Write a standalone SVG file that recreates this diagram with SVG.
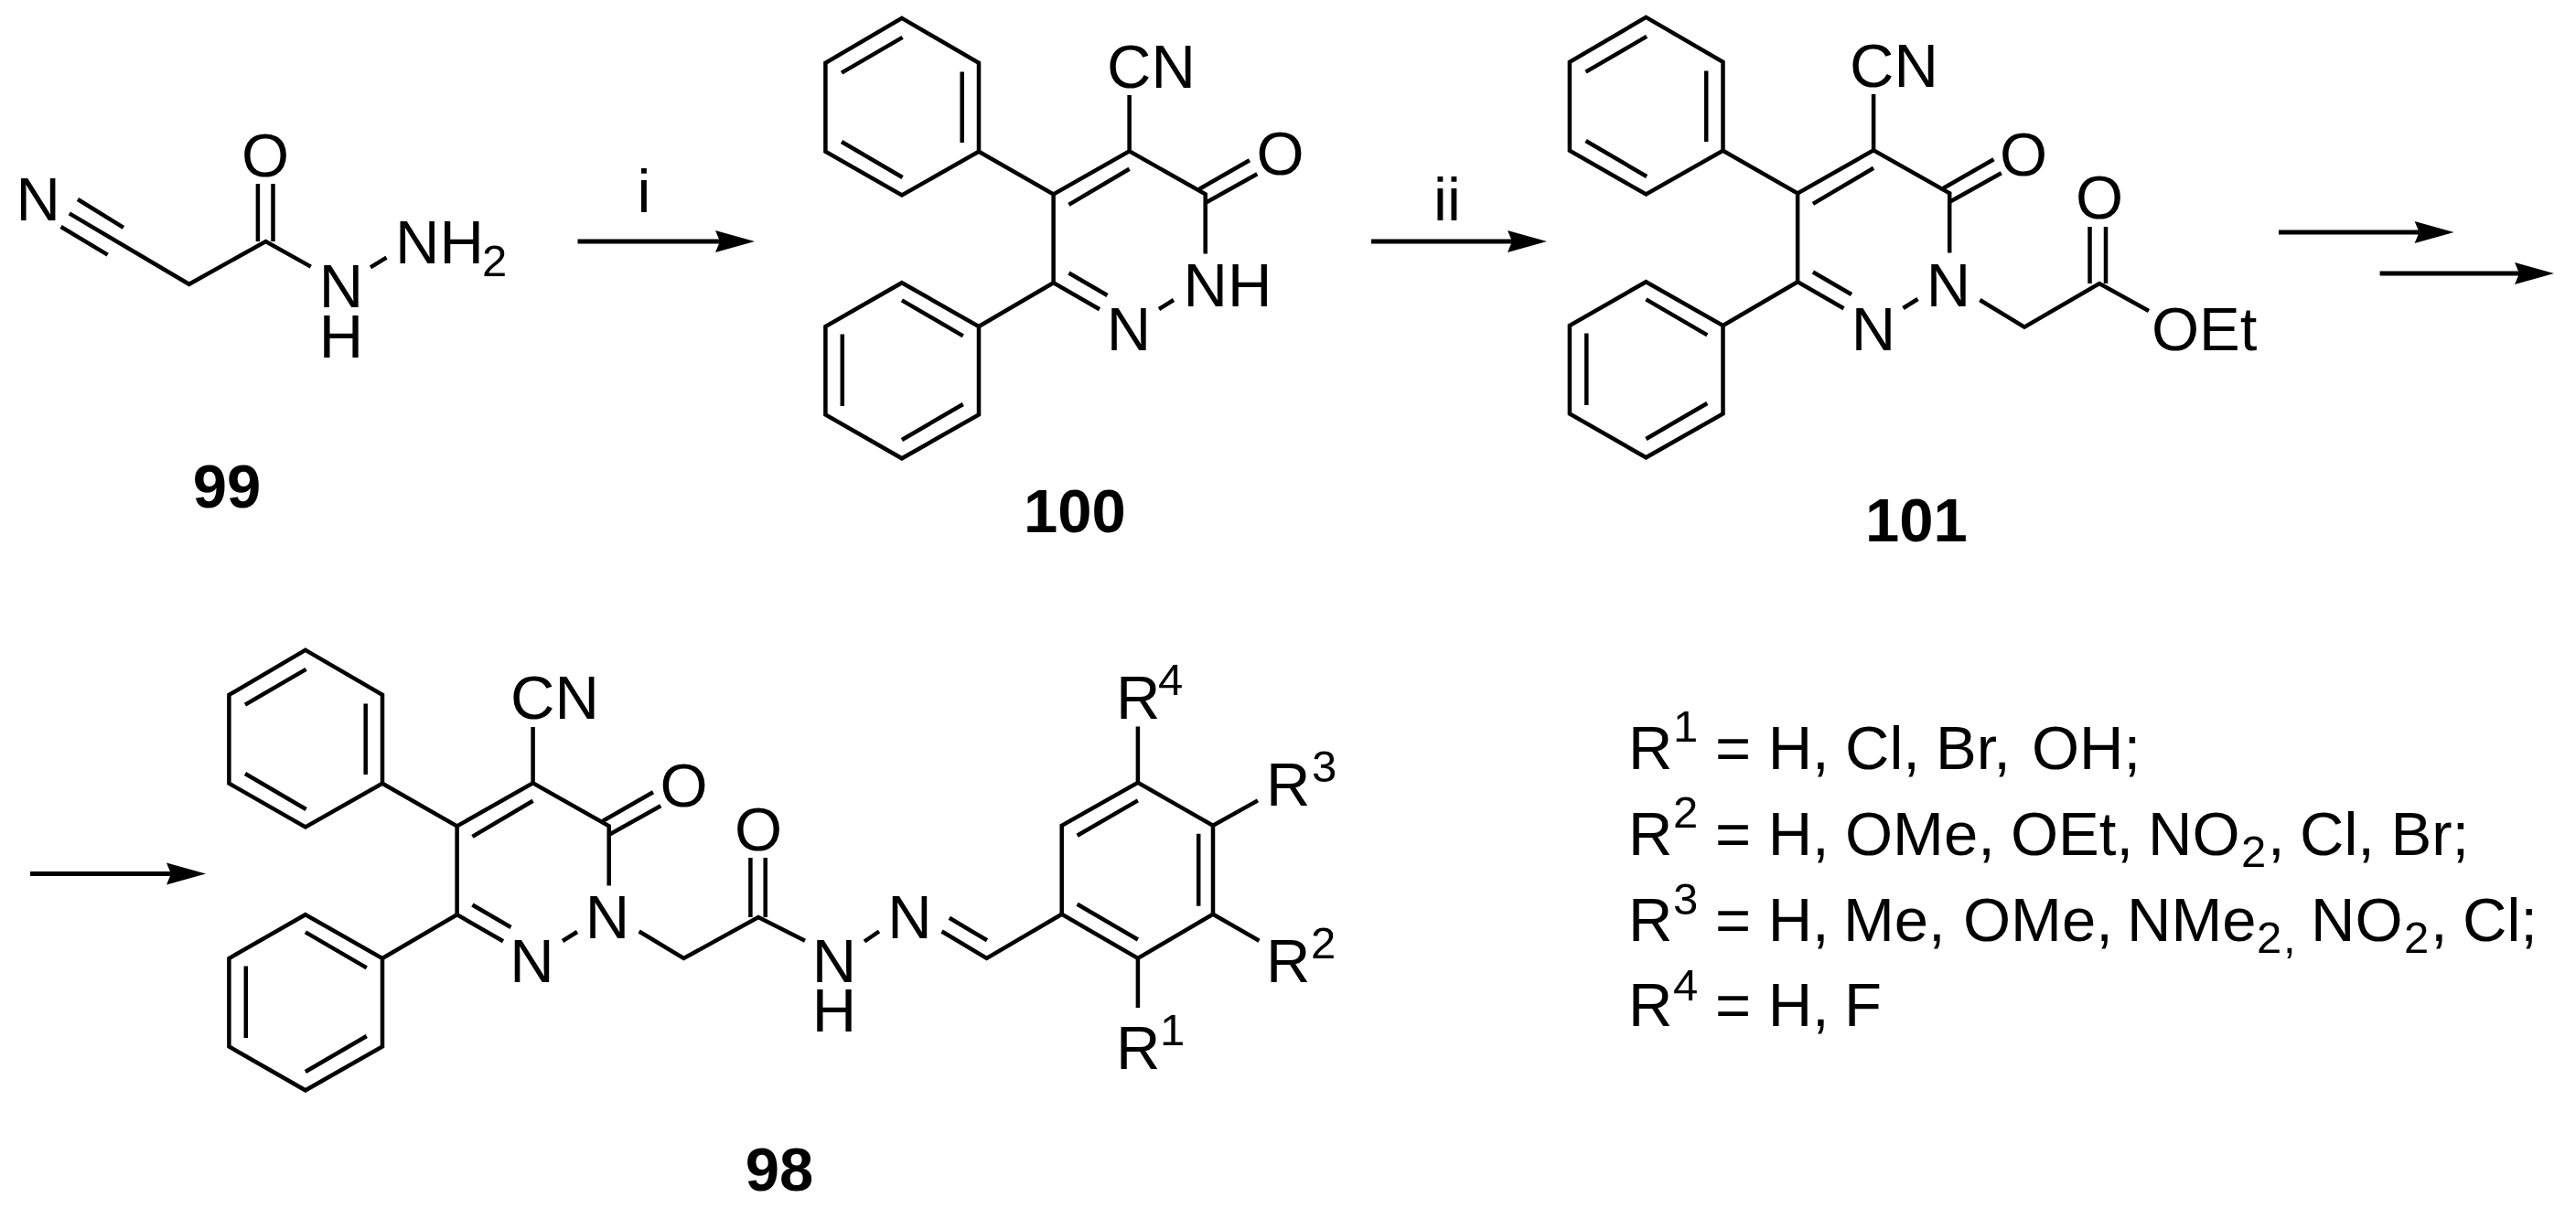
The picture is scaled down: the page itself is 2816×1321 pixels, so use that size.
<svg xmlns="http://www.w3.org/2000/svg" xmlns:xlink="http://www.w3.org/1999/xlink" width="2816" height="1321" viewBox="0 0 2816 1321">
<style>
.b{fill:none;stroke:#000;stroke-width:4.5;stroke-linejoin:miter;stroke-linecap:butt}
.a{stroke:#000;stroke-width:5;fill:none}
text{font-family:"Liberation Sans",Arial,sans-serif;font-size:67px;fill:#000}
.m{text-anchor:middle}
.l{font-weight:bold;text-anchor:middle}
.s{font-size:49px}
</style>
<defs>
<marker id="ah" markerUnits="userSpaceOnUse" markerWidth="46" markerHeight="28" refX="6" refY="13" orient="auto"><path d="M1 1L44 13L1 25L6 13Z" fill="#000"/></marker>
<g id="core" class="b">
<path d="M985.9 19.9L1070 68.9V165.7L985.9 213.5L902.4 165.7V68.9Z"/>
<path d="M920 79.6L986.6 40.9M1051.7 78.5V156M920 155L986.6 194"/>
<path d="M1070 165.7L1151.6 212.4L1234.6 165.3L1317.7 212.4V277.5M1234.6 104V165.3M1151.6 212.4V309.2L1202 338.3M1151.6 309.2L1070 357"/>
<path d="M1168.4 223.9L1234.6 184.8M1311 206.7L1366 175.3M1318.8 221.2L1374.3 190.2M1168.4 298.5L1210.5 323M1267 338L1283 328"/>
<path d="M985.9 309.2L1070 357V453.5L985.9 501.3L902.4 453.5V357Z"/>
<path d="M985.9 328.4L1052.8 367.4M920.8 365.5V444M985.9 481L1052.8 442"/>
</g>
</defs>
<rect width="2816" height="1321" fill="#fff"/>
<g id="m99">
<path class="b" d="M75.8 233.4L206.7 310.8L290.5 264L339.8 291.6M85 218L135 248.8M66.6 248L117.7 278.6M281.9 201V264M298.5 201V264M405 292.4L422.5 281.7"/>
<text class="m" x="41.6" y="241">N</text>
<text class="m" x="290" y="192.5">O</text>
<text class="m"><tspan x="373" y="336">N</tspan><tspan x="373" y="391">H</tspan></text>
<text x="432" y="288">NH</text>
<text class="s" x="527" y="302">2</text>
<text class="l" x="248" y="555">99</text>
</g>
<g id="m100">
<use href="#core"/>
<text x="1210" y="95.5">CN</text>
<text class="m" x="1399.6" y="191.4">O</text>
<text x="1293.5" y="335">NH</text>
<text class="m" x="1234" y="382.7">N</text>
<text class="l" x="1175" y="581.7">100</text>
</g>
<g id="m101">
<use href="#core" transform="translate(813.5 -1)"/>
<path class="b" d="M2164.3 328L2213 357.7L2295 310L2349 340M2284.5 248V310M2302 248V310"/>
<text x="2022" y="95">CN</text>
<text class="m" x="2212" y="191.7">O</text>
<text class="m" x="2295" y="239">O</text>
<text x="2352" y="382.6">OEt</text>
<text class="m" x="2130" y="335">N</text>
<text class="m" x="2048" y="382.6">N</text>
<text class="l" x="2095" y="592">101</text>
</g>
<g id="m98">
<use href="#core" transform="translate(-652 691)"/>
<path class="b" d="M698.6 1018.5L747.4 1048L829 1003L880 1028.7M820.4 938V1003M836.7 938V1003M945 1029.5L961 1018.5M1029.6 1018.5L1078.6 1048L1160.7 999.7M1037.8 1003.8L1079 1028.3"/>
<path class="b" d="M1160.7 999.7V902.8L1243.9 855.8L1326 902.8V999.7L1243.9 1048ZM1177.6 913.8L1243.9 875.4M1310.2 911.8V990.7M1177.6 988.7L1243.9 1027.5M1243.9 855.8V794.5M1326 902.8L1375 875.4M1326 999.7L1376.5 1028.7M1243.9 1048V1102"/>
<text x="558" y="786">CN</text>
<text class="m" x="747.6" y="882.4">O</text>
<text class="m" x="664" y="1025.5">N</text>
<text class="m" x="581.5" y="1073.7">N</text>
<text class="m" x="829" y="930">O</text>
<text class="m"><tspan x="912" y="1073.7">N</tspan><tspan x="912" y="1127.7">H</tspan></text>
<text class="m" x="994.5" y="1025.5">N</text>
<text x="1220" y="785.5">R</text><text class="s" x="1266" y="759.7">4</text>
<text x="1384" y="881">R</text><text class="s" x="1434" y="855">3</text>
<text x="1384" y="1073.7">R</text><text class="s" x="1433" y="1048">2</text>
<text x="1220" y="1169.4">R</text><text class="s" x="1268" y="1142.8">1</text>
<text class="l" x="852" y="1302">98</text>
</g>
<g id="legend">
<text x="1780" y="840.7">R</text><text class="s" x="1829" y="811">1</text>
<text x="1875" y="840.7">=</text><text x="1932.7" y="840.7">H,</text><text x="2017" y="840.7">Cl,</text><text x="2116" y="840.7">Br,</text><text x="2221" y="840.7">OH;</text>
<text x="1780" y="934.8">R</text><text class="s" x="1829" y="905">2</text>
<text x="1875" y="934.8">=</text><text x="1932.7" y="934.8">H,</text><text x="2017" y="934.8">OMe,</text><text x="2198" y="934.8">OEt,</text><text x="2348" y="934.8">NO</text><text class="s" x="2450" y="948">2</text><text x="2479" y="934.8">,</text><text x="2514" y="934.8">Cl,</text><text x="2613.5" y="934.8">Br;</text>
<text x="1780" y="1028.8">R</text><text class="s" x="1829" y="1000">3</text>
<text x="1875" y="1028.8">=</text><text x="1932.7" y="1028.8">H,</text><text x="2015" y="1028.8">Me,</text><text x="2146" y="1028.8">OMe,</text><text x="2325" y="1028.8">NMe</text><text class="s" x="2467" y="1042">2</text><text class="s" x="2496" y="1042">,</text><text x="2526" y="1028.8">NO</text><text class="s" x="2628" y="1042">2</text><text x="2657" y="1028.8">,</text><text x="2692" y="1028.8">Cl;</text>
<text x="1780" y="1122">R</text><text class="s" x="1829" y="1094">4</text>
<text x="1875" y="1122">=</text><text x="1932.7" y="1122">H,</text><text x="2016" y="1122">F</text>
</g>
<g id="connectors">
<path class="a" d="M631.5 264H787" marker-end="url(#ah)"/>
<path class="a" d="M1499 264H1653" marker-end="url(#ah)"/>
<path class="a" d="M2491 254H2644.6" marker-end="url(#ah)"/>
<path class="a" d="M2601.6 299H2754" marker-end="url(#ah)"/>
<path class="a" d="M33 955.5H187" marker-end="url(#ah)"/>
</g>
<g id="reagents">
<text class="m" x="704" y="231.5">i</text>
<text class="m" x="1582" y="241">ii</text>
</g>
</svg>
